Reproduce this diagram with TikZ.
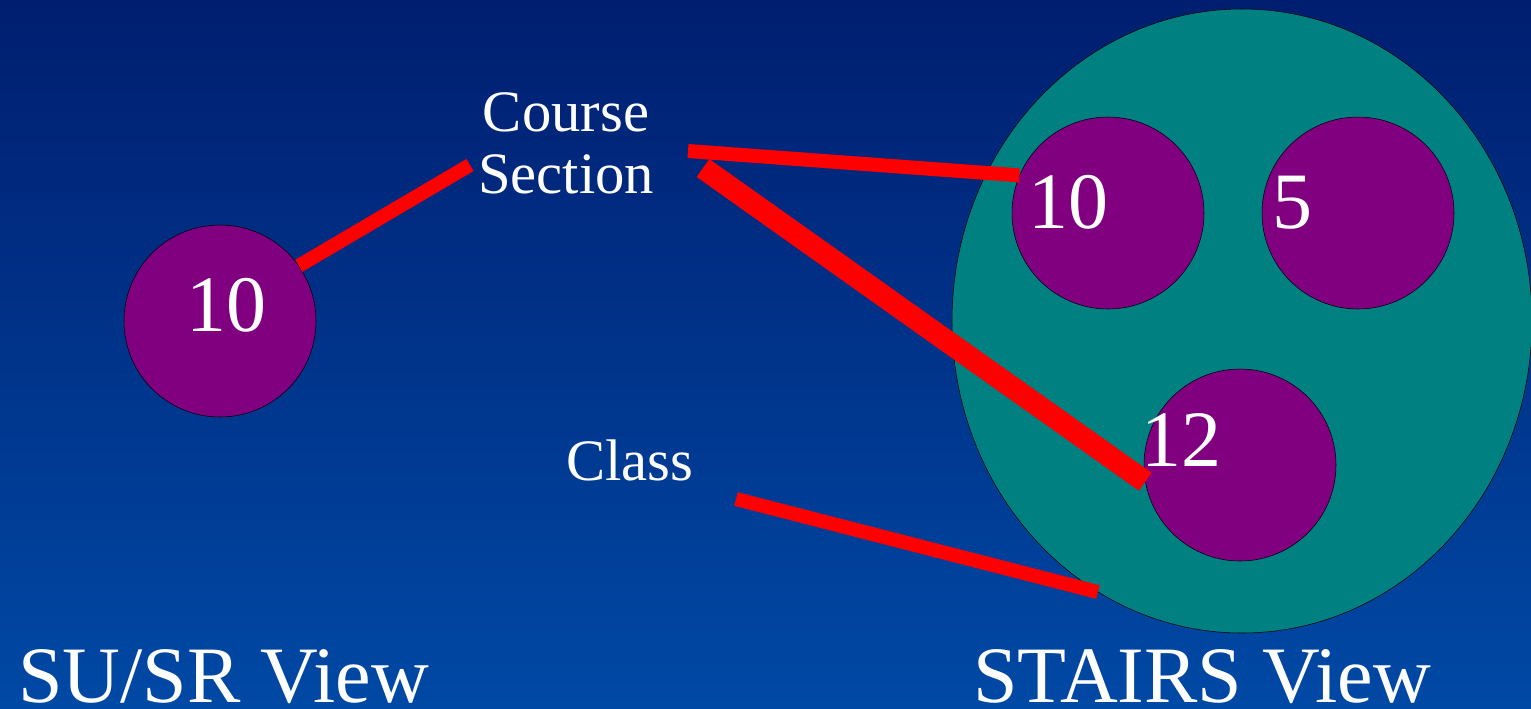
\documentclass[tikz,border=0pt]{standalone}
\usepackage{fontspec}
\IfFontExistsTF{LiberationSerif-Regular.ttf}
  {\setmainfont{LiberationSerif-Regular.ttf}}
  {\setmainfont{Liberation Serif}}
\usetikzlibrary{positioning,shapes.geometric}
\definecolor{deepnavy}{RGB}{0,30,112}
\definecolor{slateblue}{RGB}{0,73,165}
\definecolor{tealfill}{RGB}{0,128,128}
\definecolor{plum}{RGB}{128,0,128}

\begin{document}
\begin{tikzpicture}[x=0.75pt,y=-0.75pt,
    blob/.style={circle,draw=black,fill=plum,minimum size=144pt,inner sep=0pt},
    num/.style={text=white,font=\fontsize{60}{60}\selectfont,inner sep=0pt},
    tag/.style={text=white,font=\fontsize{44}{47}\selectfont,align=center,inner sep=0pt},
    viewname/.style={text=white,font=\fontsize{60}{60}\selectfont,inner sep=0pt},
    link/.style={red,line width=10.5pt}]
    \shade[top color=deepnavy,bottom color=slateblue] (0,0) rectangle (1531,708);
    \useasboundingbox (0,0) rectangle (1531,708);
    \clip (0,0) rectangle (1531,708);
    % SU/SR side
    \node[blob,label={[num,xshift=4.5pt,yshift=12pt]center:10}] (sr10) at (220,321) {};
    % STAIRS side
    \node[ellipse,draw=black,fill=tealfill,minimum width=435pt,minimum height=468pt,inner sep=0pt] (stairs) at (1242,321) {};
    \foreach \n/\x/\y/\t/\dx/\dy in {
      st10/1108/213/10/-30/8,
      st5/1358/213/5/-49.5/8,
      st12/1240/465/12/-44/19}
    {
      \node[blob,label={[num,xshift=\dx pt,yshift=\dy pt]center:\t}] (\n) at (\x,\y) {};
    }
    % labels
    \node[tag] (course) at (566,143.5) {Course\\Section};
    \node[tag,anchor=base] (class) at (630,480) {Class};
    \node[viewname,anchor=base west] (srview) at (18,702) {SU/SR View};
    \node[viewname,anchor=base west] (stview) at (973,702) {STAIRS View};
    \coordinate (courseleft) at (470,165);
    \coordinate (courseright) at (688,151);
    \coordinate (sectionright) at (703,168);
    \coordinate (classfoot) at (736,499);
    % links
    \draw[link] (sr10.35) -- (courseleft);
    \draw[link] (courseright) -- (st10.157);
    \draw[link,line width=16.5pt] (sectionright) -- (st12.190);
    \draw[link] (classfoot) -- (stairs.242);
\end{tikzpicture}
\end{document}
